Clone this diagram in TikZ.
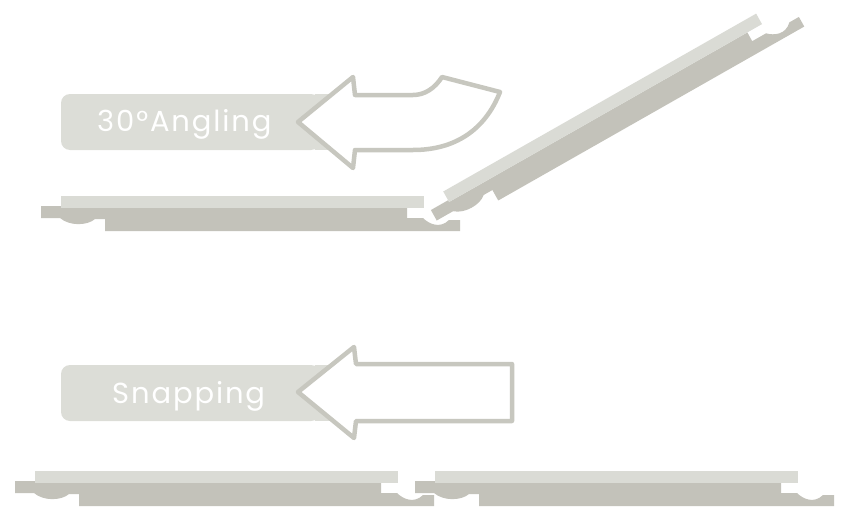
\documentclass[tikz,border=0pt]{standalone}
\usepackage{fontspec}
\setmainfont{Poppins}[LetterSpace=6.5]
\definecolor{plankLight}{HTML}{DADBD5}
\definecolor{plankDark}{HTML}{C3C2BA}
\definecolor{pillFill}{HTML}{DCDDD7}
\definecolor{arrowLine}{HTML}{C7C7BF}
\tikzset{
  plank light/.style={fill=plankLight,draw=none},
  plank dark/.style={fill=plankDark,draw=none},
  pill/.style={fill=pillFill,draw=none},
  arrow outline/.style={fill=white,draw=arrowLine,line width=4.5pt,line join=round},
  pill text/.style={text=white,font=\fontsize{29}{32}\selectfont,inner sep=0pt,anchor=base west},
}
\newcommand{\drawplank}{%
  \path[plank dark] (0,10) -- (20,10) -- (20,12) -- (366,12) -- (366,22) -- (382,22)
    .. controls (388,28) and (399,33) .. (408,24) -- (419,24) -- (419,35) -- (64,35) -- (64,23) -- (54,23)
    .. controls (46,30) and (28,30) .. (19,22) -- (0,22) -- cycle;
  \path[plank light] (20,0) -- (383,0) -- (383,12) -- (20,12) -- cycle;
}
\begin{document}
\begin{tikzpicture}[x=1pt,y=-1pt]
\useasboundingbox (0,0) rectangle (846,519);
% planks
\begin{scope}[shift={(41,196)}]\drawplank\end{scope}
\begin{scope}[shift={(426,201.3)},x={(0.862pt,0.49pt)},y={(0.488pt,-0.873pt)}]\drawplank\end{scope}
\begin{scope}[shift={(15,471)}]\drawplank\end{scope}
\begin{scope}[shift={(415,471)}]\drawplank\end{scope}
% 30 degree angling
\path[pill,rounded corners=9pt] (320,94) -- (61,94) -- (61,150) -- (320,150) -- cycle;
\path[pill] (315,94) -- (332,94) -- (332,150) -- (315,150) -- cycle;
\path[arrow outline] (298,122) -- (353,77) -- (355,95) -- (413,95)
  .. controls (425,95) and (435,88) .. (442,77) -- (500,92)
  .. controls (485,130) and (455,150) .. (413,150) -- (355,150) -- (353,168) -- cycle;
\node[pill text] (angling) at (97,131) {30°Angling};
% snapping
\path[pill,rounded corners=9pt] (320,365) -- (61,365) -- (61,421) -- (320,421) -- cycle;
\path[pill] (315,365) -- (332,365) -- (332,421) -- (315,421) -- cycle;
\path[arrow outline] (298,392) -- (354,347) -- (356,364) -- (512,364) -- (512,421) -- (356,421) -- (354,438) -- cycle;
\node[pill text] (snapping) at (112,403) {Snapping};
\end{tikzpicture}
\end{document}
